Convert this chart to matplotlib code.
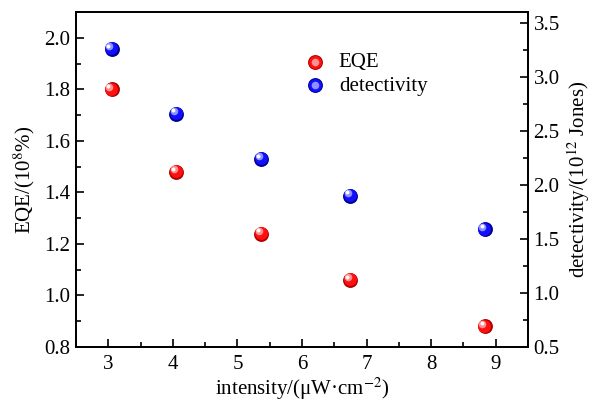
import matplotlib.pyplot as plt
import matplotlib.transforms as mtransforms
from matplotlib.legend_handler import HandlerTuple
from matplotlib.ticker import MultipleLocator

plt.rcParams['font.family'] = ['Liberation Serif', 'DejaVu Serif']
plt.rcParams['mathtext.fontset'] = 'stix'

# data
intensity = [3.05, 4.05, 5.37, 6.75, 8.83]
eqe = [1.80, 1.48, 1.24, 1.06, 0.88]            # 10^8 %
detectivity = [3.26, 2.66, 2.24, 1.90, 1.59]    # 10^12 Jones

FS = 15


def sphere(ax, x, y, dark, base, light, label):
    """ scatter that looks like a shaded ball: dark rim, body, highlight """
    fig = ax.figure
    layers = [(115, dark, 0.0), (85, base, 0.4), (30, light, 1.8), (8, 'white', 2.3)]
    handles = []
    for s, c, off in layers:
        tr = ax.transData + mtransforms.ScaledTranslation(-off / 72, off / 72, fig.dpi_scale_trans)
        h = ax.scatter(x, y, s=s, color=c, linewidths=0, transform=tr, zorder=3)
        handles.append(h)
    return tuple(handles[:3]), label


fig, ax = plt.subplots(figsize=(5.94, 4.01), dpi=100)
fig.subplots_adjust(left=0.128, right=0.889, bottom=0.135, top=0.970)
ax2 = ax.twinx()

h1 = sphere(ax, intensity, eqe, '#b00000', '#ff1010', '#ff9090', 'EQE')
h2 = sphere(ax2, intensity, detectivity, '#000090', '#1010ff', '#9090ff', 'detectivity')

ax.set_xlim(2.5, 9.5)
ax.set_ylim(0.8, 2.1)
ax2.set_ylim(0.5, 3.6)

ax.xaxis.set_major_locator(MultipleLocator(1))
ax.xaxis.set_minor_locator(MultipleLocator(0.5))
ax.yaxis.set_major_locator(MultipleLocator(0.2))
ax.yaxis.set_minor_locator(MultipleLocator(0.1))
ax2.yaxis.set_major_locator(MultipleLocator(0.5))
ax2.yaxis.set_minor_locator(MultipleLocator(0.25))

ax.yaxis.set_major_formatter(plt.FormatStrFormatter('%.1f'))
ax2.yaxis.set_major_formatter(plt.FormatStrFormatter('%.1f'))

for a in (ax, ax2):
    a.tick_params(which='both', direction='in', labelsize=FS, width=1.2)
    a.tick_params(which='major', length=6)
    a.tick_params(which='minor', length=3.5)
    for sp in a.spines.values():
        sp.set_linewidth(1.3)
ax.tick_params(axis='x', pad=6)
ax.tick_params(axis='y', pad=4)
ax2.tick_params(axis='y', pad=4)

ax.set_xlabel('intensity/(μW·cm$^{-2}$)', fontsize=FS, labelpad=1)
ax.set_ylabel('EQE/(10$^{8}$%)', fontsize=FS, labelpad=5)
ax2.set_ylabel('detectivity/(10$^{12}$ Jones)', fontsize=FS, labelpad=4)

ax.legend([h1[0], h2[0]], [h1[1], h2[1]], handler_map={tuple: HandlerTuple(ndivide=1)},
          loc='upper left', bbox_to_anchor=(0.457, 0.935), frameon=False,
          fontsize=FS, handletextpad=0.5, labelspacing=0.2, handlelength=1.3)

fig.savefig('out.png', dpi=100)
